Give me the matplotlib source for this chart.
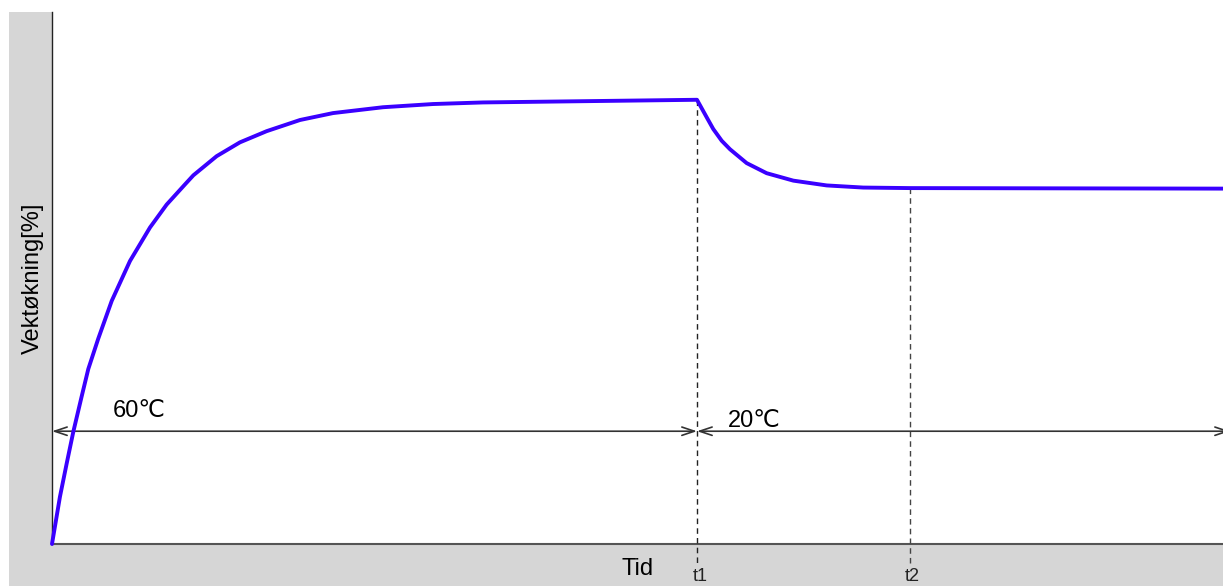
import matplotlib
matplotlib.use("Agg")
import matplotlib.pyplot as plt
from matplotlib.patches import Rectangle

plt.rcParams['font.family'] = ['Liberation Sans', 'DejaVu Sans']

# --- data ---
time = [0, 0.68, 1.26, 1.82, 2.54, 3.10, 3.95, 5.10, 6.66, 8.37, 9.79,
        11.36, 12.07, 14.06, 16.05, 18.33, 21.18, 24.0, 28.27, 32.54,
        36.80, 55.08,
        55.91, 56.47, 57.19, 57.90, 59.32, 61.03, 63.31, 66.16, 69.28,
        73.27, 100]
weight_gain = [0, 8.9, 15.2, 21.1, 27.8, 32.9, 38.6, 45.7, 53.2, 59.5, 63.8,
               67.6, 69.3, 72.9, 75.5, 77.6, 79.7, 81.0, 82.1, 82.7,
               83.0, 83.5,
               80.2, 78.0, 75.8, 74.2, 71.6, 69.7, 68.3, 67.4, 67.0,
               66.9, 66.8]
t1, t2 = 55.08, 73.27
t1_level, t2_level = 83.5, 66.9
arrow_level = 21.2
temp_labels = ["60℃", "20℃"]
tick_names = ["t1", "t2"]

W, H = 1223, 586
fig = plt.figure(figsize=(W / 100, H / 100), dpi=100)
fig.patch.set_facecolor('white')
fig.add_artist(Rectangle((9 / W, 0), 1 - 9 / W, (H - 12) / H,
                         transform=fig.transFigure, facecolor='#d6d6d6',
                         edgecolor='none', zorder=-10))

ax = fig.add_axes([52 / W, (H - 544) / H, (W - 52) / W, (544 - 12) / H])
ax.set_facecolor('white')
ax.set_xlim(0, 100)
ax.set_ylim(0, 100)
for s in ['top', 'right']:
    ax.spines[s].set_visible(False)
ax.spines['left'].set_color('#222222')
ax.spines['left'].set_linewidth(1.0)
ax.spines['bottom'].set_color('#555555')
ax.spines['bottom'].set_linewidth(1.5)
ax.set_xticks([])
ax.set_yticks([])

ax.plot(time, weight_gain, color='#3a00ff', lw=2.8, solid_capstyle='round',
        solid_joinstyle='round', clip_on=False, zorder=5)

# dashed markers
ax.plot([t1, t1], [t1_level, -4.0], color='#222222', lw=1.0,
        dashes=(4, 3), clip_on=False, zorder=3)
ax.plot([t2, t2], [t2_level, -4.3], color='#444444', lw=1.0,
        dashes=(4, 3), clip_on=False, zorder=3)

# arrows
astyle = dict(arrowstyle='<->,head_length=0.45,head_width=0.15',
              color='#333333', lw=1.2, shrinkA=0, shrinkB=0,
              mutation_scale=20)
ax.annotate('', xy=(0, arrow_level), xytext=(t1, arrow_level),
            arrowprops=astyle, annotation_clip=False)
ax.annotate('', xy=(t1, arrow_level), xytext=(100.6, arrow_level),
            arrowprops=astyle, annotation_clip=False)

ax.text(5.2, 23.8, temp_labels[0], fontsize=17, ha='left', va='baseline')
ax.text(57.7, 21.9, temp_labels[1], fontsize=17, ha='left', va='baseline')

ax.text(t1 + 0.25, -7.0, tick_names[0], fontsize=13, ha='center',
        va='baseline', color='#222222', clip_on=False)
ax.text(t2 + 0.2, -7.0, tick_names[1], fontsize=13, ha='center',
        va='baseline', color='#222222', clip_on=False)
ax.text(50.0, -5.8, "Tid", fontsize=17, ha='center', va='baseline',
        clip_on=False)

fig.text(33 / W, 1 - 278 / H, "Vektøkning[%]", fontsize=17, rotation=90,
         ha='center', va='center')

fig.savefig('out.png', dpi=100)
